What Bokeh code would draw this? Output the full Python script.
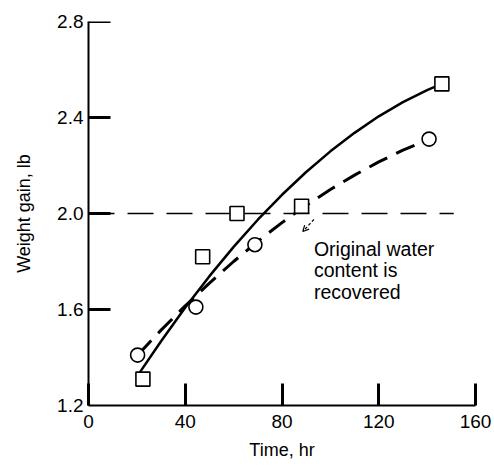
from bokeh.plotting import figure
from bokeh.models import Range1d, FixedTicker, PrintfTickFormatter, Arrow, OpenHead
from bokeh.core.properties import value
from bokeh.embed import file_html
from bokeh.resources import INLINE

# --- data ---
x_ticks = [0, 40, 80, 120, 160]
y_ticks = [1.2, 1.6, 2.0, 2.4, 2.8]

sq_time = [22.5, 47.2, 61.4, 88.1, 146.1]
sq_gain = [1.31, 1.82, 2.00, 2.03, 2.54]

ci_time = [20.3, 44.4, 68.8, 140.8]
ci_gain = [1.41, 1.61, 1.87, 2.31]

solid_time = [21, 30, 40, 50, 60, 70, 80, 90, 100, 110, 120, 130, 140, 146]
solid_gain = [1.335, 1.468, 1.608, 1.739, 1.861, 1.974, 2.078, 2.173, 2.259, 2.336, 2.405, 2.464, 2.514, 2.54]

dash_time = [20.3, 30, 40, 50, 60, 70, 80, 90, 100, 110, 120, 130, 140.8]
dash_gain = [1.41, 1.514, 1.615, 1.710, 1.800, 1.884, 1.962, 2.034, 2.100, 2.160, 2.215, 2.264, 2.31]

ref_time = [0, 151]
ref_gain = [2.0, 2.0]

note_lines = ["Original water", "content is", "recovered"]
note_time = [93.2, 93.2, 93.2]
note_gain = [1.853, 1.763, 1.672]

X0, X1 = 0, 160
Y0, Y1 = 1.2, 2.8
FRAME_W = 387.0
FRAME_H = 384.0
TICK_PX = 22

TICK_FONT = "'Liberation Sans Narrow', 'Liberation Sans', sans-serif"
LABEL_FONT = "'Liberation Sans', sans-serif"

p = figure(width=494, height=466, output_backend="svg", toolbar_location=None,
           x_range=Range1d(X0, X1), y_range=Range1d(Y0, Y1),
           min_border_left=88, min_border_right=19,
           min_border_top=21, min_border_bottom=61)
p.outline_line_color = None
p.grid.visible = False

for ax in (p.xaxis[0], p.yaxis[0]):
    ax.axis_line_width = 2
    ax.axis_line_color = "black"
    ax.major_tick_out = 0
    ax.minor_tick_line_color = None
    ax.major_label_text_font = TICK_FONT
    ax.major_label_text_font_size = "19px"
    ax.major_label_text_color = "black"
    ax.axis_label_text_font = LABEL_FONT
    ax.axis_label_text_font_size = "18px"
    ax.axis_label_text_font_style = "normal"
    ax.axis_label_text_color = "black"

# x ticks: the axis's own inward ticks
p.xaxis.major_tick_in = TICK_PX
p.xaxis.major_tick_line_color = "black"
p.xaxis.major_tick_line_width = 3
# y ticks: drawn as lines from the tick list
p.yaxis.major_tick_in = 0
p.yaxis.major_tick_line_color = None

p.xaxis.ticker = FixedTicker(ticks=x_ticks)
p.yaxis.ticker = FixedTicker(ticks=y_ticks)
p.xaxis.formatter = PrintfTickFormatter(format="%d")
p.yaxis.formatter = PrintfTickFormatter(format="%.1f")
p.xaxis.axis_label = "Time, hr"
p.yaxis.axis_label = "Weight gain, lb"
p.xaxis.major_label_standoff = 9
p.yaxis.major_label_standoff = 5
p.xaxis.axis_label_standoff = 9
p.yaxis.axis_label_standoff = 20

dx = TICK_PX * (X1 - X0) / FRAME_W
yt = [t for t in y_ticks if t > Y0]
p.multi_line(xs=[[X0, X0 + dx] for t in yt], ys=[[t, t] for t in yt],
             line_color="black", line_width=3)

# reference line
p.line(ref_time, ref_gain, line_color="black", line_width=1.5, line_dash="26 13")

# fitted curves
p.line(solid_time, solid_gain, line_color="black", line_width=2.5)
p.line(dash_time, dash_gain, line_color="black", line_width=3, line_dash="20 10")

# markers
p.scatter(sq_time, sq_gain, marker="square", size=14, fill_color="white",
          line_color="black", line_width=1.6)
p.scatter(ci_time, ci_gain, marker="circle", size=14, fill_color="white",
          line_color="black", line_width=1.6)

# annotation
p.text(note_time, note_gain, text=note_lines, text_font=value(LABEL_FONT),
       text_font_size="19.5px", text_color="black", text_baseline="alphabetic",
       text_align="left")
p.add_layout(Arrow(x_start=93.2, y_start=1.975, x_end=88.6, y_end=1.925,
                   line_color="black", line_width=1.2, line_dash="3 2",
                   end=OpenHead(size=6, line_color="black", line_width=1.2)))

open("out.html", "w").write(file_html(p, INLINE))
